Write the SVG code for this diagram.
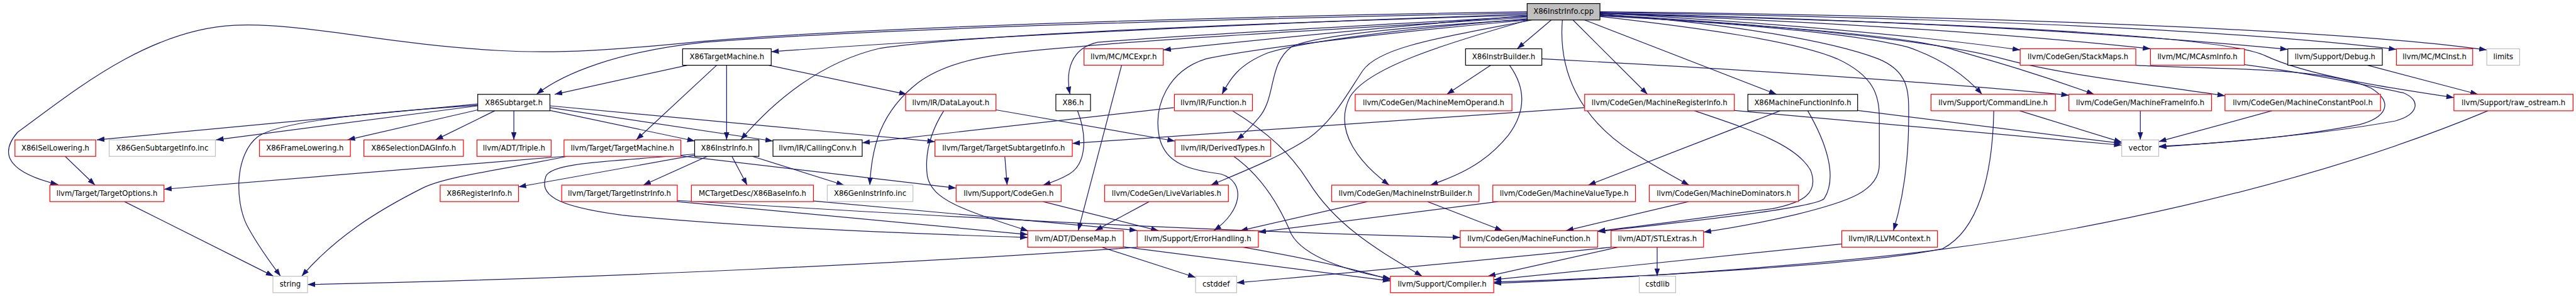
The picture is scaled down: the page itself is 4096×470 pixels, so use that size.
<svg xmlns="http://www.w3.org/2000/svg" width="4096" height="470" viewBox="0 0 4096 470">
<defs>
<style>
.n rect{fill:#fff;stroke-width:1.3}
.r rect{stroke:#ff0000}
.b rect{stroke:#000}
.g rect{stroke:#bfbfbf}
.root rect{fill:#bfbfbf;stroke:#000}
.n text{font-family:"DejaVu Sans",sans-serif;font-size:12.5px;text-anchor:middle;fill:#000}
#edges path{fill:none;stroke:#191970;stroke-width:1.3;marker-end:url(#a)}
</style>
<marker id="a" viewBox="0 0 13 9.2" markerWidth="13" markerHeight="9.2" refX="13" refY="4.6" orient="auto" markerUnits="userSpaceOnUse"><path d="M0,0L13,4.6L0,9.2z" fill="#191970"/></marker>
</defs>
<rect width="4096" height="470" fill="#fff"/>
<g transform="scale(0.93324)">
<g id="edges">
<path d="M2602,20 C2100,28 1500,45 1200,70 C1050,85 950,92 850,86 C650,75 520,38 400,43 C250,50 120,160 30,225 C-5,265 20,295 99,314"/>
<path d="M2602,22 C2100,32 1500,48 1200,72 C1050,88 960,125 914,160.5"/>
<path d="M2602,24 C2200,38 1700,60 1314,88"/>
<path d="M2602,26 C2100,40 1650,60 1500,82 C1400,105 1320,170 1262,238"/>
<path d="M2602,28 C2300,45 1980,62 1870,72 C1825,82 1815,120 1823,160.5"/>
<path d="M2602,30 C2300,48 1950,68 1830,80 C1700,90 1620,100 1565,140 C1500,190 1485,250 1482,315"/>
<path d="M2602,27 C2400,42 2200,62 1982,85"/>
<path d="M2604,32 C2400,48 2220,70 2160,90 C2110,110 2095,135 2082,160.5"/>
<path d="M2606,33 C2400,45 2240,60 2200,80 C2160,110 2175,165 2145,200 C2130,218 2120,228 2107,238"/>
<path d="M2610,34 C2450,65 2350,80 2322,120 C2295,160 2272,205 2230,235 C2180,268 2110,295 2063,315"/>
<path d="M2604,34 C2400,52 2150,80 2055,100 C1990,120 1965,180 1975,232 C1985,280 2030,290 2080,296 C2125,310 2115,360 2068,392.5"/>
<path d="M2643,34 L2585,83"/>
<path d="M2604,34 C2460,75 2330,115 2300,165 C2270,225 2320,280 2367,315"/>
<path d="M2680,34 L2807,160.5"/>
<path d="M2662,34 C2655,120 2690,200 2780,258 C2820,283 2850,300 2878,315"/>
<path d="M2700,34 L3027,160.5"/>
<path d="M2726,24 C2950,40 3120,70 3200,100 C3255,122 3252,160 3252,200 C3252,280 3242,340 3226,392.5"/>
<path d="M2726,28 C2900,48 3060,70 3130,100 C3195,130 3202,165 3202,200 L3202,280 C3202,325 3150,343 3060,365 C3010,377 2950,388 2902.5,395"/>
<path d="M2726,26 C2950,40 3150,55 3250,80 C3310,100 3350,130 3377,160.5"/>
<path d="M2726,22 C3000,38 3250,58 3442,85"/>
<path d="M2726,27 C3000,42 3250,60 3330,85 C3400,105 3470,125 3568,160.5"/>
<path d="M2726,25 C3000,40 3300,68 3420,102 C3520,128 3650,142 3791,163"/>
<path d="M2726,23 C3100,36 3400,55 3664,83"/>
<path d="M2726,22 C3200,34 3600,55 3898,84"/>
<path d="M2726,21 C3300,30 3800,50 4083,84"/>
<path d="M2726,20 C3400,27 4000,52 4237,85"/>
<path d="M2726,23 C3300,38 3780,58 3860,95 C3930,128 4060,148 4181,166"/>
<path d="M1171,111 L945,160.5"/>
<path d="M1221,111 L1084,238"/>
<path d="M1238,111 L1238,238"/>
<path d="M1310,111 L1545,160.5"/>
<path d="M814,177 L165,238"/>
<path d="M814,180 L368,238"/>
<path d="M814,179 C650,190 480,205 440,232 C400,262 400,340 420,382 C440,420 462,448 478,470"/>
<path d="M814,187 L592,238"/>
<path d="M843,188.5 L742,238"/>
<path d="M875.5,188.5 L875.5,238"/>
<path d="M937,188 L1184,240"/>
<path d="M937,183 L1317,240"/>
<path d="M937,180 L1593,241"/>
<path d="M1184,264 L883.4,318"/>
<path d="M1205,266 L1096,315"/>
<path d="M1247,266 L1273,315"/>
<path d="M1282,266 L1438,315"/>
<path d="M1184,262 C1050,275 940,275 930,300 C920,330 940,350 1060,366 C1250,385 1500,396 1751,404"/>
<path d="M961,266 L279.4,322"/>
<path d="M966,266 C850,290 760,300 720,320 C640,360 570,405 514,470"/>
<path d="M1159,265 L1629,320"/>
<path d="M111,266 L162,315"/>
<path d="M212,343 L466,470"/>
<path d="M1697,187 L2002,240"/>
<path d="M1608,188.5 C1585,225 1575,262 1580,300 C1588,340 1640,357 1752,393"/>
<path d="M1836,188.5 C1852,230 1852,278 1822,296 C1805,306 1790,311 1777,315"/>
<path d="M2000,183 L1469,243"/>
<path d="M2100,188.5 C2160,225 2200,262 2230,310 C2280,390 2360,432 2423,470"/>
<path d="M1712,266 L1716,315"/>
<path d="M1911,111 L1837,392.5"/>
<path d="M2102,266 C2150,300 2180,350 2200,398 C2222,438 2300,462 2369,474"/>
<path d="M1958,343 L1866,392.5"/>
<path d="M1777,343 L1974,392.5"/>
<path d="M1154,343 L1751,399"/>
<path d="M1154,341 C1500,362 2000,392 2488,404"/>
<path d="M1386,342 L1937.5,392"/>
<path d="M1877,420.5 L2037,472"/>
<path d="M1914,420 L2369,478"/>
<path d="M1940,420.5 C1600,445 1000,475 524,484"/>
<path d="M2117,420.5 C2200,435 2300,455 2369,476"/>
<path d="M2330,343 L2113,392.5"/>
<path d="M2432,343 L2560,392.5"/>
<path d="M2552,343 L2144,395"/>
<path d="M2877,343 L2668,392.5"/>
<path d="M2540,111 L2465,160.5"/>
<path d="M2572,111 C2600,150 2600,190 2570,230 C2530,280 2480,300 2437,315"/>
<path d="M2627,100 C3000,120 3300,140 3525,162"/>
<path d="M2700,183 L1827,244"/>
<path d="M2887,188.5 C2980,220 3060,245 3085,290 C3100,330 3070,345 3020,355 C2900,370 2800,385 2722,393"/>
<path d="M2955,188 L3615,247"/>
<path d="M3033,188.5 L2706,315"/>
<path d="M3080,188.5 C3110,240 3132,300 3108,338 C3090,355 2850,380 2722,394"/>
<path d="M3165,188 L3615,244"/>
<path d="M3441,188.5 L3615,242"/>
<path d="M3397,188.5 C3395,300 3370,392 3310,423 C3200,448 2800,472 2545,480"/>
<path d="M4239,188.5 C3900,330 3500,400 3310,424 C3150,446 2800,473 2545,482"/>
<path d="M3138,415 L2545,476"/>
<path d="M2823.5,420.5 L2823.5,470"/>
<path d="M2757,420.5 L2535,470"/>
<path d="M2747,420.5 C2600,435 2300,465 2107,481"/>
<path d="M4034,111 L4222,160.5"/>
<path d="M3646.7,188.5 L3646.7,238"/>
<path d="M3871,188.5 L3678,241"/>
<path d="M3639,111 C3750,118 3960,112 4040,150 C4080,175 4065,200 4020,212 C3900,235 3760,245 3678,249"/>
<path d="M3824,110 C3900,120 4000,138 4095,158 C4125,170 4122,195 4080,206 C3950,230 3780,243 3678,250"/>
</g>
<g id="n_cpp" class="n root"><rect x="2602" y="6" width="124" height="28"/><text x="2664" y="24">X86InstrInfo.cpp</text></g>
<g id="n_tm" class="n b"><rect x="1163" y="83" width="151" height="28"/><text x="1238.5" y="101">X86TargetMachine.h</text></g>
<g id="n_mcexpr" class="n r"><rect x="1847" y="83" width="135" height="28"/><text x="1914.5" y="101">llvm/MC/MCExpr.h</text></g>
<g id="n_ib" class="n b"><rect x="2497" y="83" width="130" height="28"/><text x="2562" y="101">X86InstrBuilder.h</text></g>
<g id="n_stackmaps" class="n r"><rect x="3442" y="83" width="197" height="28"/><text x="3540.5" y="101">llvm/CodeGen/StackMaps.h</text></g>
<g id="n_mcasminfo" class="n r"><rect x="3664" y="83" width="160" height="28"/><text x="3744" y="101">llvm/MC/MCAsmInfo.h</text></g>
<g id="n_debug" class="n b"><rect x="3898" y="83" width="161" height="28"/><text x="3978.5" y="101">llvm/Support/Debug.h</text></g>
<g id="n_mcinst" class="n r"><rect x="4083" y="83" width="130" height="28"/><text x="4148" y="101">llvm/MC/MCInst.h</text></g>
<g id="n_limits" class="n g"><rect x="4237" y="83" width="56" height="28"/><text x="4265" y="101">limits</text></g>
<g id="n_st" class="n b"><rect x="814" y="160.5" width="123" height="28"/><text x="875.5" y="178.5">X86Subtarget.h</text></g>
<g id="n_dl" class="n r"><rect x="1543" y="160.5" width="154" height="28"/><text x="1620" y="178.5">llvm/IR/DataLayout.h</text></g>
<g id="n_x86h" class="n b"><rect x="1799" y="160.5" width="59" height="28"/><text x="1828.5" y="178.5">X86.h</text></g>
<g id="n_func" class="n r"><rect x="2001" y="160.5" width="133" height="28"/><text x="2067.5" y="178.5">llvm/IR/Function.h</text></g>
<g id="n_mmo" class="n r"><rect x="2309" y="160.5" width="267" height="28"/><text x="2442.5" y="178.5">llvm/CodeGen/MachineMemOperand.h</text></g>
<g id="n_mri" class="n r"><rect x="2700" y="160.5" width="255" height="28"/><text x="2827.5" y="178.5">llvm/CodeGen/MachineRegisterInfo.h</text></g>
<g id="n_x86mfi" class="n b"><rect x="2978" y="160.5" width="187" height="28"/><text x="3071.5" y="178.5">X86MachineFunctionInfo.h</text></g>
<g id="n_cl" class="n r"><rect x="3290" y="160.5" width="212" height="28"/><text x="3396" y="178.5">llvm/Support/CommandLine.h</text></g>
<g id="n_mfi" class="n r"><rect x="3525" y="160.5" width="243" height="28"/><text x="3646.5" y="178.5">llvm/CodeGen/MachineFrameInfo.h</text></g>
<g id="n_mcp" class="n r"><rect x="3791" y="160.5" width="265" height="28"/><text x="3923.5" y="178.5">llvm/CodeGen/MachineConstantPool.h</text></g>
<g id="n_ros" class="n r"><rect x="4181" y="160.5" width="203" height="28"/><text x="4282.5" y="178.5">llvm/Support/raw_ostream.h</text></g>
<g id="n_isel" class="n r"><rect x="25.5" y="238" width="137.5" height="28"/><text x="94.25" y="256">X86ISelLowering.h</text></g>
<g id="n_gensub" class="n g"><rect x="186" y="238" width="181" height="28"/><text x="276.5" y="256">X86GenSubtargetInfo.inc</text></g>
<g id="n_frame" class="n r"><rect x="442" y="238" width="155" height="28"/><text x="519.5" y="256">X86FrameLowering.h</text></g>
<g id="n_sdag" class="n r"><rect x="620" y="238" width="169.5" height="28"/><text x="704.75" y="256">X86SelectionDAGInfo.h</text></g>
<g id="n_triple" class="n r"><rect x="812.6" y="238" width="126.4" height="28"/><text x="875.8" y="256">llvm/ADT/Triple.h</text></g>
<g id="n_tmh" class="n r"><rect x="961" y="238" width="199" height="28"/><text x="1060.5" y="256">llvm/Target/TargetMachine.h</text></g>
<g id="n_iih" class="n b"><rect x="1183.5" y="238" width="109.5" height="28"/><text x="1238.25" y="256">X86InstrInfo.h</text></g>
<g id="n_cc" class="n b"><rect x="1317" y="238" width="152" height="28"/><text x="1393" y="256">llvm/IR/CallingConv.h</text></g>
<g id="n_tsi" class="n r"><rect x="1593" y="238" width="234" height="28"/><text x="1710" y="256">llvm/Target/TargetSubtargetInfo.h</text></g>
<g id="n_dt" class="n r"><rect x="2002" y="238" width="163" height="28"/><text x="2083.5" y="256">llvm/IR/DerivedTypes.h</text></g>
<g id="n_vector" class="n g"><rect x="3615" y="238" width="63" height="28"/><text x="3646.5" y="256">vector</text></g>
<g id="n_topt" class="n r"><rect x="85" y="315" width="194.4" height="28"/><text x="182.2" y="333">llvm/Target/TargetOptions.h</text></g>
<g id="n_reg" class="n r"><rect x="750" y="315" width="133.4" height="28"/><text x="816.7" y="333">X86RegisterInfo.h</text></g>
<g id="n_tii" class="n r"><rect x="957" y="315" width="197" height="28"/><text x="1055.5" y="333">llvm/Target/TargetInstrInfo.h</text></g>
<g id="n_base" class="n r"><rect x="1178" y="315" width="208" height="28"/><text x="1282" y="333">MCTargetDesc/X86BaseInfo.h</text></g>
<g id="n_geninst" class="n g"><rect x="1409.5" y="315" width="146" height="28"/><text x="1482.5" y="333">X86GenInstrInfo.inc</text></g>
<g id="n_cg" class="n r"><rect x="1629" y="315" width="179" height="28"/><text x="1718.5" y="333">llvm/Support/CodeGen.h</text></g>
<g id="n_lv" class="n r"><rect x="1882" y="315" width="211" height="28"/><text x="1987.5" y="333">llvm/CodeGen/LiveVariables.h</text></g>
<g id="n_mib" class="n r"><rect x="2269" y="315" width="251" height="28"/><text x="2394.5" y="333">llvm/CodeGen/MachineInstrBuilder.h</text></g>
<g id="n_mvt" class="n r"><rect x="2543.5" y="315" width="243" height="28"/><text x="2665" y="333">llvm/CodeGen/MachineValueType.h</text></g>
<g id="n_mdom" class="n r"><rect x="2810" y="315" width="254.4" height="28"/><text x="2937.2" y="333">llvm/CodeGen/MachineDominators.h</text></g>
<g id="n_dm" class="n r"><rect x="1751" y="392.5" width="163" height="28"/><text x="1832.5" y="410.5">llvm/ADT/DenseMap.h</text></g>
<g id="n_eh" class="n r"><rect x="1937.5" y="392.5" width="206.5" height="28"/><text x="2040.75" y="410.5">llvm/Support/ErrorHandling.h</text></g>
<g id="n_mf" class="n r"><rect x="2488" y="392.5" width="234" height="28"/><text x="2605" y="410.5">llvm/CodeGen/MachineFunction.h</text></g>
<g id="n_stl" class="n r"><rect x="2745" y="392.5" width="157.5" height="28"/><text x="2823.75" y="410.5">llvm/ADT/STLExtras.h</text></g>
<g id="n_llvmctx" class="n r"><rect x="3138" y="392.5" width="163" height="28"/><text x="3219.5" y="410.5">llvm/IR/LLVMContext.h</text></g>
<g id="n_string" class="n g"><rect x="465" y="470" width="59" height="28"/><text x="494.5" y="488">string</text></g>
<g id="n_cstddef" class="n g"><rect x="2037" y="470" width="70" height="28"/><text x="2072" y="488">cstddef</text></g>
<g id="n_compiler" class="n r"><rect x="2369" y="470" width="176" height="28"/><text x="2457" y="488">llvm/Support/Compiler.h</text></g>
<g id="n_cstdlib" class="n g"><rect x="2793" y="470" width="62" height="28"/><text x="2824" y="488">cstdlib</text></g>
</g>
</svg>
